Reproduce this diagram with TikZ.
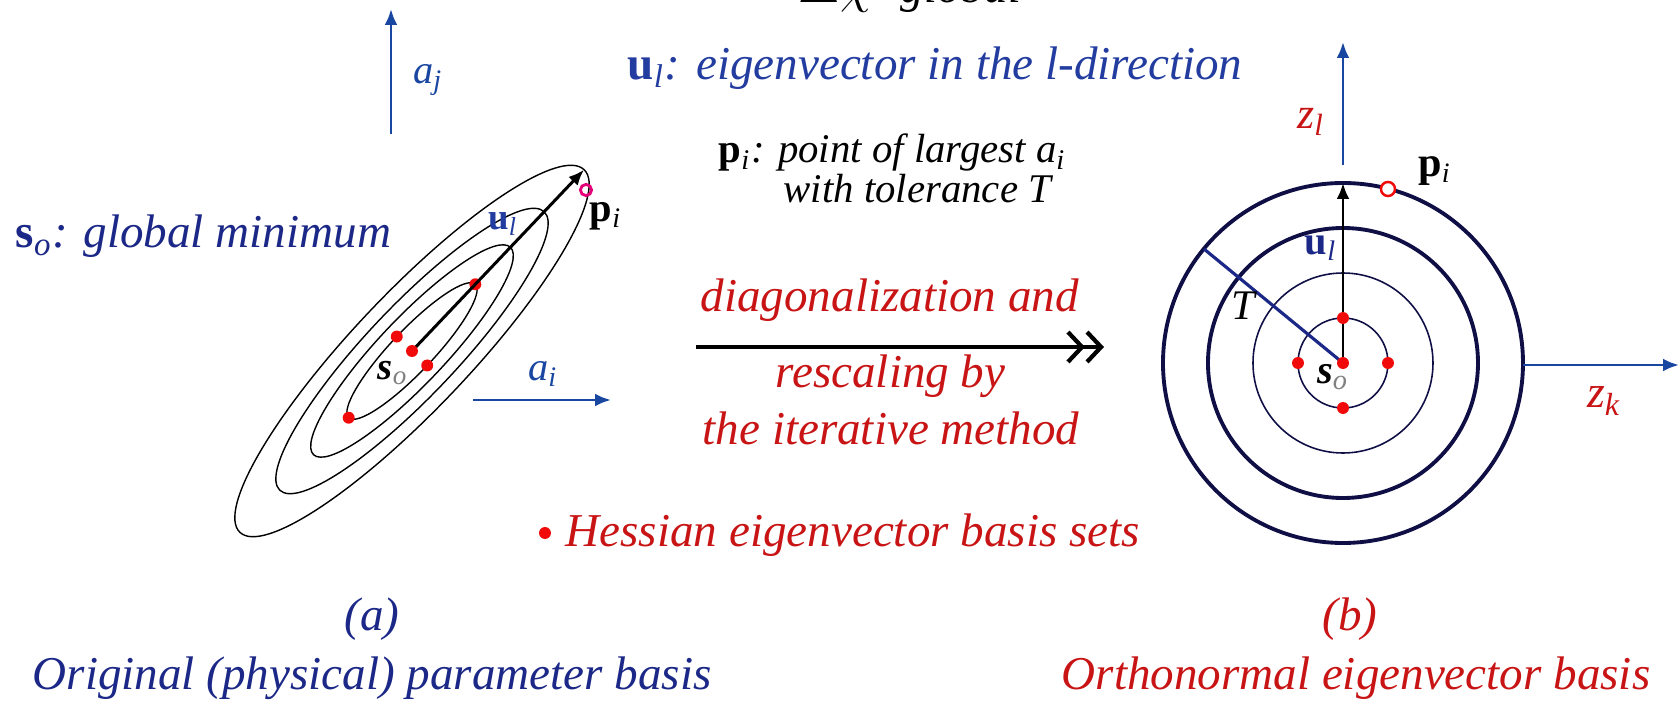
\documentclass[tikz,border=0pt]{standalone}
\usepackage{amsmath}
\usepackage{fontspec}
\setmainfont{Liberation Serif}
\usetikzlibrary{arrows.meta}
\definecolor{tblue}{RGB}{28,40,135}
\definecolor{ublue}{RGB}{35,60,160}
\definecolor{axblue}{RGB}{25,70,160}
\definecolor{tred}{RGB}{200,20,20}
\definecolor{dotred}{RGB}{240,10,10}
\definecolor{navy}{RGB}{15,15,70}
\definecolor{mag}{RGB}{230,0,120}
\newcommand{\bvsub}[2]{\textup{\textbf{#1}}$_{\textit{#2}}$}
\newcommand{\isub}[2]{\textit{#1}$_{\textit{#2}}$}
\begin{document}
\begin{tikzpicture}[x=0.1mm,y=-0.1mm,
  big/.style={font=\fontsize{13.4}{15}\selectfont\itshape, inner sep=0pt},
  mid/.style={font=\fontsize{11.6}{13}\selectfont\itshape, inner sep=0pt},
  lab/.style={font=\fontsize{11.5}{13}\selectfont\itshape, inner sep=0pt},
  axis/.style={draw=axblue, line width=0.75pt, -{Latex[length=4.5pt,width=3.6pt]}},
  vecarrow/.style={draw=black, line width=0.85pt, -{Latex[length=4.5pt,width=3.6pt]}},
  contour/.style={draw=black, line width=0.4pt},
  hdot/.style={circle, fill=dotred, inner sep=0pt, minimum size=3.4pt},
]
\useasboundingbox (0,0) rectangle (1680,701);
\clip (0,0) rectangle (1680,701);

% ---------- texts ----------
\node[big, anchor=base east] (topcut) at (1022,3) {$\Delta\chi^2$ global};
\node[big, text=ublue, anchor=base west] (ultxt) at (627,80) {\bvsub{u}{l}: eigenvector in the \textit{l}-direction};
\node[mid, anchor=base west] (pitxt) at (718,163) {\bvsub{p}{i}: point of largest \isub{a}{i}};
\node[mid, anchor=base west] (toltxt) at (783,203) {with tolerance \textit{T}};
\node[big, text=tblue, anchor=base west] (sotxt) at (15,248) {\bvsub{s}{o}: global minimum};
\node[big, text=tred, anchor=base west] (diag) at (700,312) {diagonalization and};
\node[big, text=tred, anchor=base west] (resc) at (775,388) {rescaling by};
\node[big, text=tred, anchor=base west] (iter) at (702,445) {the iterative method};
\node[hdot] (hdot) at (545,533) {};
\node[big, text=tred, anchor=base west] (hess) at (565,547) {Hessian eigenvector basis sets};
\node[big, text=tblue, anchor=base] (capa) at (372,631) {(a)};
\node[big, text=tblue, anchor=base west] (capatxt) at (32,689) {Original (physical) parameter basis};
\node[big, text=tred, anchor=base] (capb) at (1350,631) {(b)};
\node[big, text=tred, anchor=base west] (capbtxt) at (1061,689) {Orthonormal eigenvector basis};

% ---------- main arrow ----------
\coordinate (mA) at (696,347);
\coordinate (mB) at (1104,347);
\draw[line width=1.05pt, -{Straight Barb[length=4pt,width=8.5pt,line width=1.2pt] Straight Barb[length=4pt,width=8.5pt,line width=1.2pt]}] (mA) -- (mB);

% ---------- left panel ----------
\coordinate (ajA) at (391,134);
\coordinate (ajB) at (391,9);
\draw[axis] (ajA) -- (ajB);
\node[lab, text=axblue] (ajlab) at (428,80) {\isub{a}{j}};
\coordinate (aiA) at (473,400);
\coordinate (aiB) at (611,400);
\draw[axis] (aiA) -- (aiB);
\node[lab, text=axblue] (ailab) at (543,374) {\isub{a}{i}};

\begin{scope}[shift={(412,351)}, rotate=46.5]
  \foreach \a/\b in {92/21,143/33,192/45,250/58}
    \draw[contour] (0,0) ellipse [x radius=\a, y radius=\b];
  \coordinate (Lc) at (0,0);
  \coordinate (Ltip) at (250,0);
  \node[hdot] (L1) at (92,0) {};
  \node[hdot] (L2) at (-92,0) {};
  \node[hdot] (L3) at (0,21) {};
  \node[hdot] (L4) at (0,-21) {};
\end{scope}
\draw[vecarrow] (Lc) -- (Ltip);
\node[hdot] (L0) at (Lc) {};
\node[draw=mag, circle, line width=0.8pt, inner sep=0pt, minimum size=3.2pt] (Lpi) at (586,190) {};
\node[font=\fontsize{11.5}{13}\selectfont, inner sep=0pt] (Lpilab) at (606,216) {\bvsub{p}{i}};
\node[font=\fontsize{10.5}{12}\selectfont, text=ublue, inner sep=0pt] (Lullab) at (503,224) {\bvsub{u}{l}};
\node[font=\fontsize{11}{12}\selectfont, inner sep=0pt] (Lsolab) at (393,373) {\textbf{\textit{s}}$_{\textcolor{gray}{\textit{o}}}$};

% ---------- right panel ----------
\coordinate (C) at (1343,363);
\draw[navy, line width=0.45pt] (C) circle [radius=45];
\draw[navy, line width=0.45pt] (C) circle [radius=90];
\draw[navy, line width=1.1pt] (C) circle [radius=135];
\draw[navy, line width=1.1pt] (C) circle [radius=180];
\coordinate (zlA) at (1343,165);
\coordinate (zlB) at (1343,42);
\draw[axis] (zlA) -- (zlB);
\node[font=\fontsize{12.5}{14}\selectfont\itshape, text=tred, inner sep=0pt] (zllab) at (1311,122) {\isub{z}{l}};
\coordinate (zkA) at (1523,365);
\coordinate (zkB) at (1679,365);
\draw[axis] (zkA) -- (zkB);
\node[font=\fontsize{13}{14}\selectfont\itshape, text=tred, inner sep=0pt] (zklab) at (1604,401) {\isub{z}{k}};
\coordinate (Tend) at (1204,249);
\draw[tblue, line width=0.9pt] (C) -- (Tend);
\node[font=\fontsize{12}{14}\selectfont\itshape, inner sep=0pt] (Tlab) at (1243,306) {T};
\coordinate (Rtop) at (1343,183);
\draw[vecarrow, line width=0.7pt] (C) -- (Rtop);
\node[font=\fontsize{11.5}{13}\selectfont, text=tblue, inner sep=0pt] (Rullab) at (1321,248) {\bvsub{u}{l}};
\node[hdot] (R0) at (C) {};
\node[hdot] (R1) at (1388,363) {};
\node[hdot] (R2) at (1298,363) {};
\node[hdot] (R3) at (1343,318) {};
\node[hdot] (R4) at (1343,408) {};
\node[draw=dotred, fill=white, circle, line width=0.7pt, inner sep=0pt, minimum size=4pt] (Rpi) at (1388,189) {};
\node[font=\fontsize{12}{14}\selectfont, inner sep=0pt] (Rpilab) at (1435,171) {\bvsub{p}{i}};
\node[font=\fontsize{11.5}{13}\selectfont, inner sep=0pt] (Rsolab) at (1333,377) {\textbf{\textit{s}}$_{\textcolor{gray}{\textit{o}}}$};
\end{tikzpicture}
\end{document}
